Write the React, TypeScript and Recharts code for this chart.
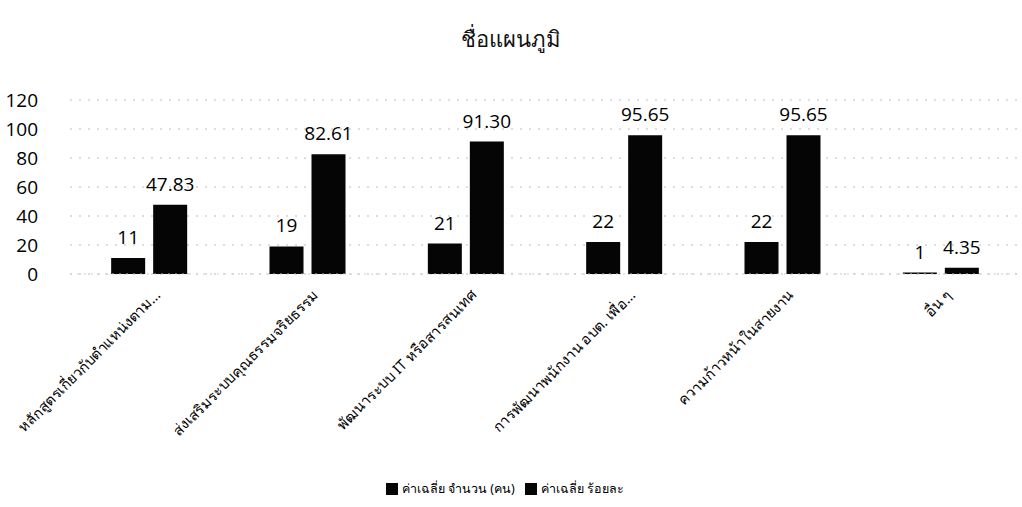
import { BarChart, Bar, XAxis, YAxis, CartesianGrid, Legend, LabelList } from 'recharts';

const categories = [
  'หลักสูตรเกี่ยวกับตำแหน่งตาม...',
  'ส่งเสริมระบบคุณธรรมจริยธรรม',
  'พัฒนาระบบ IT หรือสารสนเทศ',
  'การพัฒนาพนักงาน อบต. เพื่อ...',
  'ความก้าวหน้าในสายงาน',
  'อื่น ๆ',
];
const countValues = [11, 19, 21, 22, 22, 1];
const percentValues = [47.83, 82.61, 91.3, 95.65, 95.65, 4.35];
const yTicks = [0, 20, 40, 60, 80, 100, 120];

const data = categories.map((name, i) => ({
  name,
  count: countValues[i],
  percent: percentValues[i],
}));

const FONT = '"Noto Sans", "DejaVu Sans", sans-serif';
const NUM_FONT = '"Open Sans", "Liberation Sans", sans-serif';

function CategoryTick({ x, y, payload }: any) {
  return (
    <text
      x={x + 12}
      y={y + 14}
      transform={`rotate(-45, ${x + 12}, ${y + 14})`}
      textAnchor="end"
      fontSize={14.5}
      fontFamily={FONT}
      fill="#000"
    >
      {payload.value}
    </text>
  );
}

export default function App() {
  return (
    <div style={{ position: 'absolute', left: 0, top: 0, width: 1022, height: 507, background: '#fff' }}>
      <div
        style={{
          position: 'absolute',
          top: 22,
          width: 1022,
          textAlign: 'center',
          fontFamily: FONT,
          fontSize: 22,
          fontWeight: 400,
          color: '#111',
        }}
      >
        ชื่อแผนภูมิ
      </div>
      <BarChart
        width={1022}
        height={507}
        data={data}
        margin={{ top: 100, right: 2, left: 0, bottom: 8 }}
        barCategoryGap="26%"
        barGap={8}
      >
        <CartesianGrid vertical={false} stroke="#bbb" strokeDasharray="2 7" />
        <XAxis
          dataKey="name"
          interval={0}
          height={205}
          tick={<CategoryTick />}
          tickLine={false}
          axisLine={{ stroke: '#ccc', strokeDasharray: '2 5' }}
        />
        <YAxis
          domain={[0, 120]}
          ticks={yTicks}
          width={70}
          tickLine={false}
          axisLine={false}
          tickMargin={26}
          tick={{ fontSize: 19, fill: '#000', fontFamily: NUM_FONT }}
        />
        <Legend
          iconType="square"
          iconSize={12}
          formatter={(v: string) => <span style={{ color: '#000', fontSize: 12.5, fontFamily: FONT }}>{v}</span>}
        />
        <Bar dataKey="count" name="ค่าเฉลี่ย จำนวน (คน)" fill="#050505" isAnimationActive={false}>
          <LabelList dataKey="count" position="top" offset={14} fontSize={19} fill="#000" fontFamily={NUM_FONT} />
        </Bar>
        <Bar dataKey="percent" name="ค่าเฉลี่ย ร้อยละ" fill="#050505" isAnimationActive={false}>
          <LabelList
            dataKey="percent"
            position="top"
            offset={14}
            fontSize={19}
            fill="#000"
            fontFamily={NUM_FONT}
            formatter={(v: any) => Number(v).toFixed(2)}
          />
        </Bar>
      </BarChart>
    </div>
  );
}
